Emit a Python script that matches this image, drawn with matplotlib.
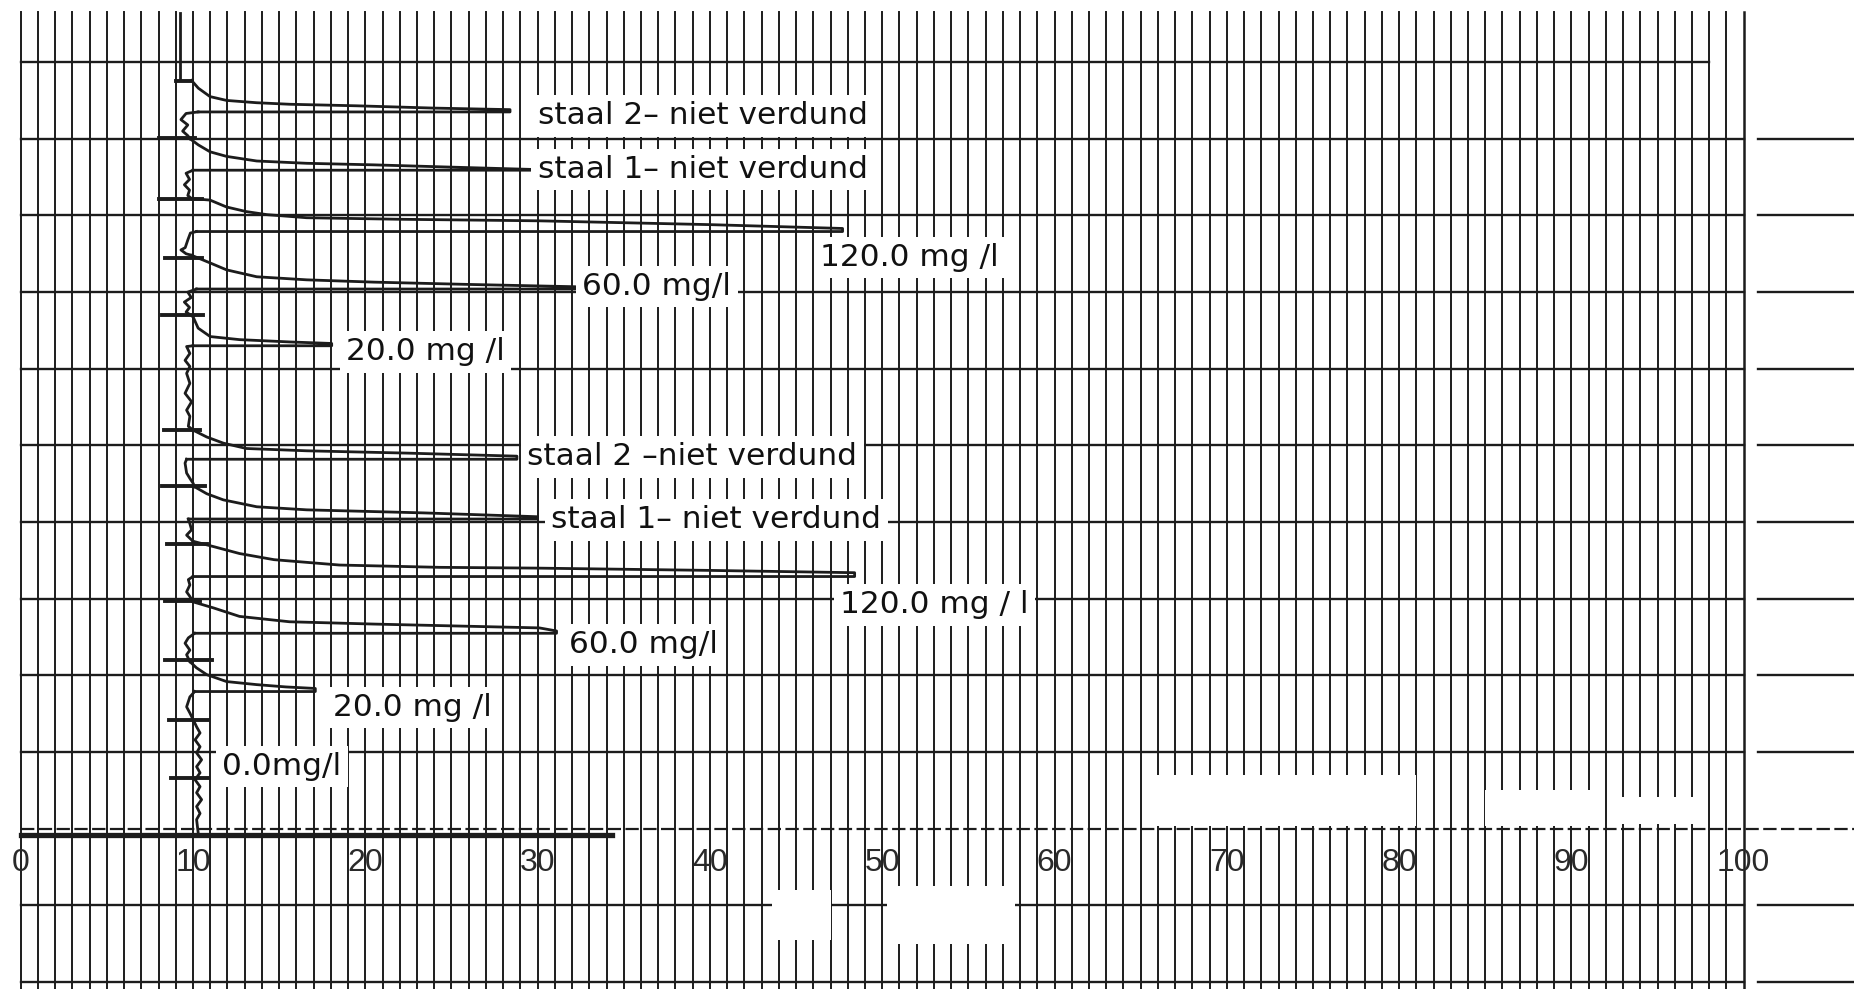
import matplotlib.pyplot as plt
from matplotlib.patches import Rectangle

# schaalverdeling onderaan
tick_values = [0, 10, 20, 30, 40, 50, 60, 70, 80, 90, 100]

# pieken van boven naar onder: stijgende flank (x, y) en terugloop op hoogte return_y
peak_x = [
    [9.92, 10.31, 10.99, 11.95, 13.70, 15.63, 19.50, 24.0, 28.4],
    [9.83, 10.31, 10.99, 11.95, 13.70, 16.6, 20.45, 25.0, 29.7],
    [9.92, 10.99, 11.95, 13.1, 14.3, 16.6, 22.0, 30.0, 40.0, 47.7],
    [9.92, 11.0, 11.95, 13.7, 16.6, 20.5, 26.0, 32.2],
    [10.0, 10.3, 11.0, 12.7, 15.6, 18.05],
    [10.0, 10.8, 11.76, 13.1, 16.6, 22.4, 28.8],
    [10.1, 10.8, 11.76, 13.7, 16.6, 23.4, 30.0],
    [10.0, 11.2, 12.7, 14.7, 18.5, 24.3, 29.9, 40.0, 48.4],
    [10.0, 11.2, 12.7, 15.6, 20.5, 30.1, 31.1],
    [9.82, 10.2, 10.8, 11.95, 13.7, 15.4, 17.1],
]
peak_y = [
    [9.76, 9.66, 9.55, 9.50, 9.47, 9.45, 9.43, 9.40, 9.38],
    [9.00, 8.92, 8.83, 8.77, 8.71, 8.68, 8.66, 8.63, 8.60],
    [8.22, 8.20, 8.11, 8.05, 8.01, 7.97, 7.95, 7.93, 7.88, 7.83],
    [7.48, 7.38, 7.29, 7.20, 7.16, 7.13, 7.10, 7.07],
    [6.68, 6.53, 6.42, 6.38, 6.35, 6.33],
    [5.20, 5.11, 5.03, 4.96, 4.93, 4.90, 4.86],
    [4.46, 4.37, 4.29, 4.20, 4.16, 4.12, 4.07],
    [3.75, 3.68, 3.59, 3.51, 3.44, 3.41, 3.40, 3.37, 3.34],
    [2.96, 2.88, 2.77, 2.70, 2.67, 2.62, 2.58],
    [2.18, 2.10, 2.01, 1.92, 1.88, 1.85, 1.83],
]
return_y = [9.35, 8.59, 7.79, 7.04, 6.30, 4.82, 4.04, 3.29, 2.55, 1.79]
return_x0 = [10.3, 10.0, 10.2, 10.2, 10.0, 9.63, 9.73, 10.0, 10.1, 10.1]

# basislijn tussen de pieken
base_x = [
    [9.25, 9.25],
    [10.3, 9.6, 9.3, 9.7, 9.4, 9.7, 9.83],
    [10.0, 9.6, 9.8, 9.5, 9.8, 9.7, 9.92],
    [10.2, 9.85, 9.7, 9.55, 9.3, 9.6, 9.92],
    [10.2, 9.7, 9.9, 9.5, 9.8, 9.6, 10.0],
    [10.0, 9.63, 9.82, 9.54, 9.82, 9.63, 9.82, 9.54, 9.92, 9.63, 9.82, 9.73, 10.0],
    [9.63, 9.54, 9.63, 9.82, 10.0, 10.1],
    [9.73, 9.82, 9.92, 9.63, 10.0],
    [10.0, 9.73, 9.82, 9.63, 9.82, 10.0],
    [10.1, 9.73, 9.54, 9.82, 9.63, 9.82],
    [10.1, 9.82, 9.63, 9.82, 10.02, 10.21, 10.41, 10.12, 10.41, 10.21, 10.5,
     10.21, 10.41, 10.12, 10.41, 10.21, 10.5, 10.21, 10.41, 10.21, 10.3],
]
base_y = [
    [10.64, 9.78],
    [9.35, 9.33, 9.25, 9.18, 9.10, 9.04, 9.00],
    [8.59, 8.55, 8.47, 8.40, 8.33, 8.26, 8.22],
    [7.79, 7.77, 7.68, 7.58, 7.55, 7.50, 7.48],
    [7.04, 7.00, 6.93, 6.87, 6.80, 6.74, 6.68],
    [6.30, 6.29, 6.20, 6.11, 6.03, 5.94, 5.81, 5.68, 5.57, 5.46, 5.38, 5.25, 5.20],
    [4.82, 4.77, 4.64, 4.57, 4.51, 4.46],
    [4.04, 3.98, 3.90, 3.83, 3.75],
    [3.29, 3.25, 3.18, 3.09, 3.03, 2.96],
    [2.55, 2.49, 2.42, 2.33, 2.27, 2.18],
    [1.79, 1.72, 1.59, 1.51, 1.42, 1.33, 1.25, 1.16, 1.07, 0.99, 0.90,
     0.81, 0.73, 0.64, 0.55, 0.47, 0.38, 0.29, 0.20, 0.12, -0.05],
]

# injectiemerktekens op de basislijn
marker_y = [9.76, 9.01, 8.22, 7.45, 6.70, 5.20, 4.47, 3.72, 2.97, 2.20, 1.42, 0.66]
marker_x0 = [9.0, 8.0, 8.0, 8.4, 8.2, 8.3, 8.2, 8.5, 8.4, 8.4, 8.6, 8.7]
marker_x1 = [9.92, 10.1, 10.5, 10.5, 10.6, 10.4, 10.7, 10.8, 10.4, 11.1, 10.9, 10.9]

# nullijn van de schrijver
zero_x = [0, 34.3]
zero_y = -0.08

labels = ["staal 2\u2013 niet verdund", "staal 1\u2013 niet verdund", "120.0 mg /l",
          "60.0 mg/l", "20.0 mg /l", "staal 2 \u2013niet verdund",
          "staal 1\u2013 niet verdund", "120.0 mg / l", "60.0 mg/l", "20.0 mg /l",
          "0.0mg/l"]
label_x = [30.0, 30.0, 46.4, 32.6, 18.9, 29.4, 30.8, 47.55, 31.8, 18.1, 11.7]
label_y = [9.30, 8.60, 7.45, 7.07, 6.22, 4.85, 4.03, 2.92, 2.40, 1.58, 0.81]

# weggeveegde plekken op de scan (x0, x1, y0, y1)
wipe_x0 = [65.5, 85.0, 92.2, 43.6, 50.3]
wipe_x1 = [81.0, 91.5, 97.5, 47.0, 57.7]
wipe_y0 = [0.03, 0.03, 0.06, -1.45, -1.50]
wipe_y1 = [0.70, 0.50, 0.42, -0.80, -0.75]

grid_rows = list(range(-2, 11))
grid_cols = list(range(0, 101))

fig = plt.figure(figsize=(18.54, 9.89), dpi=100)
ax = fig.add_axes([0, 0, 1, 1])
ax.set_xlim(-1.2, 106.4)
ax.set_ylim(-2.09, 10.81)
ax.axis('off')

ink = '#1c1c1c'

# rasterpapier
for c in grid_cols:
    lw = 1.8 if c == 100 else 1.4
    ax.plot([c, c], [-2.2, 10.65], color=ink, lw=lw, zorder=1)
for r in grid_rows:
    if r == 10:
        ax.plot([0, 98], [r, r], color=ink, lw=1.7, zorder=1)
    elif r == 0:
        ax.plot([0, 107], [r, r], color=ink, lw=1.6, ls=(0, (6, 2)), zorder=1)
    else:
        ax.plot([0, 100], [r, r], color=ink, lw=1.7, zorder=1)
        ax.plot([100.8, 107], [r, r], color=ink, lw=1.7, zorder=1)

for x0, x1, y0, y1 in zip(wipe_x0, wipe_x1, wipe_y0, wipe_y1):
    ax.add_patch(Rectangle((x0, y0), x1 - x0, y1 - y0, facecolor='white',
                           edgecolor='none', zorder=2))

# schrijverspoor
for bx, by in zip(base_x, base_y):
    ax.plot(bx, by, color=ink, lw=2.0, zorder=3)
for px, py, ry, rx0 in zip(peak_x, peak_y, return_y, return_x0):
    xs = px + [px[-1], rx0]
    ys = py + [ry, ry]
    ax.plot(xs, ys, color=ink, lw=2.0, zorder=3, solid_joinstyle='round')
for my, mx0, mx1 in zip(marker_y, marker_x0, marker_x1):
    ax.plot([mx0, mx1], [my, my], color=ink, lw=2.8, zorder=3)
ax.plot(zero_x, [zero_y, zero_y], color=ink, lw=3.8, zorder=3)

# schaalcijfers
for t in tick_values:
    ax.text(t, -0.45, str(t), ha='center', va='center', fontsize=23, color='#2a2a2a',
            family=['Liberation Sans Narrow', 'Liberation Sans', 'DejaVu Sans'], zorder=4)

# etiketten
for txt, lx, ly in zip(labels, label_x, label_y):
    ax.text(lx, ly, txt, ha='left', va='center', fontsize=22.5, color='#111111',
            family=['DejaVu Sans'], zorder=5,
            bbox=dict(boxstyle='square,pad=0.2', facecolor='white', edgecolor='none'))

fig.savefig('out.png', dpi=100, facecolor='white')
